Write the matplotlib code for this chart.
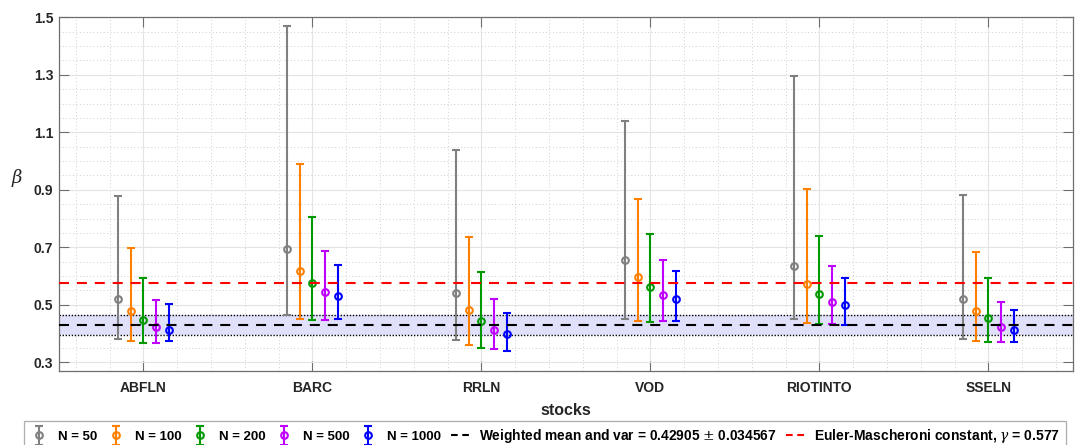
import matplotlib
matplotlib.use("Agg")
import matplotlib.pyplot as plt
import numpy as np
from matplotlib.lines import Line2D
from matplotlib.legend_handler import HandlerErrorbar
from matplotlib.ticker import MultipleLocator

plt.rcParams['font.family'] = ['Liberation Sans', 'DejaVu Sans']
plt.rcParams['mathtext.fontset'] = 'dejavuserif'

# ---- data ----
stocks = ['ABFLN', 'BARC', 'RRLN', 'VOD', 'RIOTINTO', 'SSELN']
sample_sizes = [50, 100, 200, 500, 1000]

beta_mid = [
    [0.520, 0.694, 0.541, 0.655, 0.635, 0.521],   # N = 50
    [0.477, 0.617, 0.481, 0.596, 0.572, 0.477],   # N = 100
    [0.449, 0.577, 0.445, 0.562, 0.537, 0.454],   # N = 200
    [0.423, 0.546, 0.413, 0.534, 0.511, 0.424],   # N = 500
    [0.412, 0.532, 0.397, 0.520, 0.499, 0.411],   # N = 1000
]
beta_low = [
    [0.380, 0.464, 0.377, 0.452, 0.452, 0.382],
    [0.374, 0.452, 0.361, 0.445, 0.437, 0.375],
    [0.368, 0.447, 0.349, 0.442, 0.432, 0.371],
    [0.369, 0.448, 0.346, 0.445, 0.432, 0.371],
    [0.375, 0.452, 0.341, 0.445, 0.430, 0.371],
]
beta_high = [
    [0.877, 1.470, 1.038, 1.140, 1.296, 0.881],
    [0.699, 0.991, 0.737, 0.867, 0.903, 0.685],
    [0.594, 0.806, 0.615, 0.747, 0.738, 0.593],
    [0.516, 0.689, 0.521, 0.657, 0.634, 0.511],
    [0.502, 0.640, 0.472, 0.617, 0.594, 0.482],
]

weighted_mean = 0.42905
weighted_var = 0.034567
euler_gamma = 0.577

# ---- style ----
series_colors = ['#808080', '#ff8000', '#009900', '#bf00ff', '#0000ff']
offsets = [-0.15, -0.075, 0.0, 0.075, 0.15]
text_color = '#262626'
spine_color = '#6e6e6e'

fig = plt.figure(figsize=(10.75, 4.45), dpi=100)
ax = fig.add_axes([59 / 1075, 1 - 371 / 445, (1072.8 - 59) / 1075, (371 - 17.3) / 445])

x = np.arange(1, len(stocks) + 1)

handles = []
for k, n in enumerate(sample_sizes):
    mid = np.array(beta_mid[k])
    lo = np.array(beta_low[k])
    hi = np.array(beta_high[k])
    eb = ax.errorbar(x + offsets[k], mid, yerr=[mid - lo, hi - mid], fmt='o',
                     color=series_colors[k], mfc='none', mec=series_colors[k],
                     ms=4.8, mew=1.5, elinewidth=1.5, capsize=2.8, capthick=1.5,
                     zorder=3, label=f'N = {n}')
    handles.append(eb)

# weighted mean band
ax.axhspan(weighted_mean - weighted_var, weighted_mean + weighted_var,
           facecolor='#e0e0fa', edgecolor='none', zorder=1)
for yb in (weighted_mean - weighted_var, weighted_mean + weighted_var):
    ax.axhline(yb, color='black', lw=1.0, ls=(0, (1, 1.2)), zorder=2)

dash = (0, (4.8, 3.8))
ax.axhline(weighted_mean, color='black', lw=1.5, ls=dash, zorder=4)
ax.axhline(euler_gamma, color='#ff0000', lw=1.5, ls=dash, zorder=4)

ax.set_xlim(0.5, 6.5)
ax.set_ylim(0.27, 1.5)
ax.set_xticks(x)
ax.set_xticklabels(stocks, fontweight='bold', fontsize=10, color=text_color)
ax.set_yticks([0.3, 0.5, 0.7, 0.9, 1.1, 1.3, 1.5])
ax.set_yticklabels(['0.3', '0.5', '0.7', '0.9', '1.1', '1.3', '1.5'],
                   fontweight='bold', fontsize=10, color=text_color)
ax.xaxis.set_minor_locator(MultipleLocator(0.2))
ax.yaxis.set_minor_locator(MultipleLocator(0.05))

ax.tick_params(which='major', direction='in', top=True, right=True,
               length=7, width=0.8, color=spine_color)
ax.tick_params(axis='x', which='major', pad=7)
ax.tick_params(axis='y', which='major', pad=4)
ax.tick_params(which='minor', length=0)

ax.grid(which='major', color='#e4e4e4', lw=0.8, ls='-', zorder=0)
ax.grid(which='minor', color='#cfcfcf', lw=0.7, ls=(0, (1, 2.5)), zorder=0)
ax.set_axisbelow(True)

for s in ax.spines.values():
    s.set_color(spine_color)
    s.set_linewidth(0.9)

ax.set_xlabel('stocks', fontweight='bold', fontsize=11.5, color=text_color, labelpad=6)
ax.set_ylabel(r'$\beta$', fontsize=13, rotation=0, color=text_color)
ax.yaxis.set_label_coords(-0.041, 0.515)

# legend
line_mean = Line2D([], [], color='black', lw=1.5, ls=(0, (3.2, 2.2)))
line_gamma = Line2D([], [], color='#ff0000', lw=1.5, ls=(0, (3.2, 2.2)))
handles += [line_mean, line_gamma]
labels = [f'N = {n}' for n in sample_sizes] + [
    r'Weighted mean and var = %.5f $\pm$ %.6f' % (weighted_mean, weighted_var),
    r'Euler-Mascheroni constant, $\gamma$ = %.3f' % euler_gamma,
]

leg = fig.legend(handles, labels, loc='upper center', ncol=7,
                 bbox_to_anchor=(545 / 1075, 1 - 421 / 445),
                 bbox_transform=fig.transFigure, borderaxespad=0.0,
                 prop={'weight': 'bold', 'size': 9.5},
                 frameon=True, fancybox=False, edgecolor='#999999',
                 borderpad=0.45, handlelength=1.4, handletextpad=0.75,
                 columnspacing=0.7,
                 handler_map={type(handles[0]): HandlerErrorbar(xerr_size=0.7)})
leg.get_frame().set_linewidth(0.9)
for t in leg.get_texts():
    t.set_color('black')
leg.get_texts()[5].set_fontsize(9.9)
leg.get_texts()[6].set_fontsize(10.0)

fig.savefig('out.png', dpi=100)
